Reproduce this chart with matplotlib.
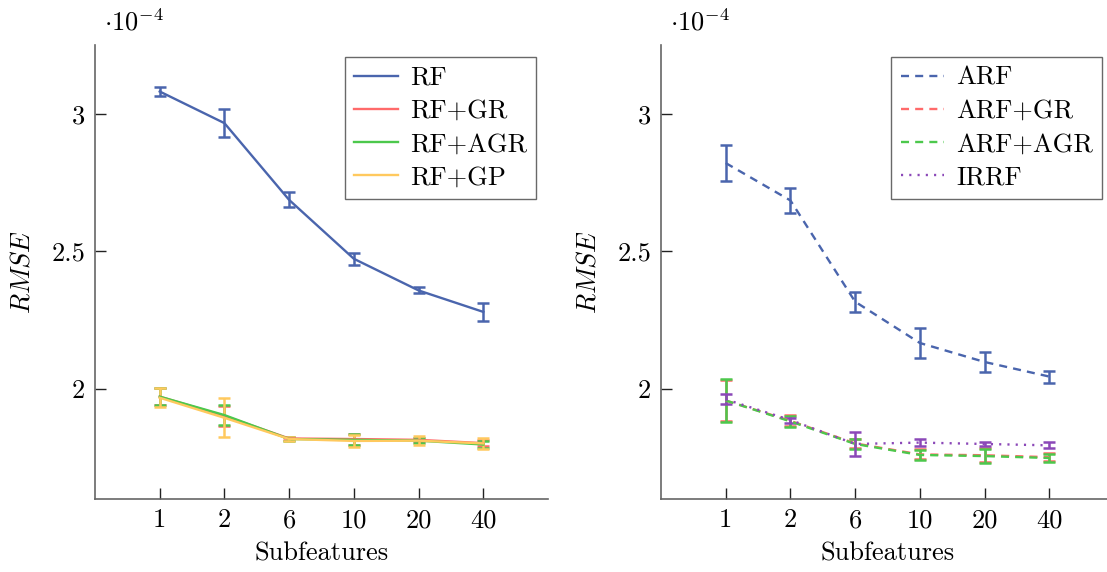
import matplotlib
matplotlib.use("Agg")
import matplotlib.pyplot as plt
from matplotlib.lines import Line2D
import numpy as np

plt.rcParams['font.family'] = 'cmr10'
plt.rcParams['mathtext.fontset'] = 'cm'
plt.rcParams['axes.formatter.use_mathtext'] = True

# x categories (number of subfeatures)
subfeatures = ['1', '2', '6', '10', '20', '40']

# left panel, values in 1e-4
rf = [3.081, 2.966, 2.687, 2.473, 2.358, 2.280]
rf_err = [0.015, 0.050, 0.027, 0.021, 0.011, 0.032]
rf_gr = [1.972, 1.902, 1.820, 1.818, 1.815, 1.803]
rf_gr_err = [0.030, 0.035, 0.006, 0.020, 0.008, 0.012]
rf_agr = [1.972, 1.905, 1.818, 1.815, 1.812, 1.798]
rf_agr_err = [0.030, 0.036, 0.006, 0.020, 0.010, 0.012]
rf_gp = [1.968, 1.895, 1.818, 1.811, 1.812, 1.802]
rf_gp_err = [0.034, 0.071, 0.006, 0.023, 0.017, 0.020]

# right panel
arf = [2.821, 2.685, 2.317, 2.167, 2.098, 2.045]
arf_err = [0.065, 0.044, 0.036, 0.053, 0.038, 0.022]
arf_gr = [1.958, 1.884, 1.802, 1.762, 1.759, 1.752]
arf_gr_err = [0.075, 0.020, 0.017, 0.018, 0.025, 0.015]
arf_agr = [1.958, 1.882, 1.800, 1.760, 1.756, 1.749]
arf_agr_err = [0.077, 0.021, 0.017, 0.018, 0.026, 0.015]
irrf = [1.962, 1.887, 1.800, 1.805, 1.800, 1.795]
irrf_err = [0.018, 0.009, 0.043, 0.012, 0.008, 0.011]

BLUE = '#4a65ad'
RED = '#ff6a6a'
GREEN = '#4cc84c'
YELLOW = '#ffc95e'
PURPLE = '#8b48b8'

FS = 19

fig = plt.figure(figsize=(11.07, 5.72), dpi=100)
ax1 = fig.add_axes([95 / 1107, 1 - 499 / 572, 453 / 1107, 454 / 572])
ax2 = fig.add_axes([661 / 1107, 1 - 499 / 572, 453 / 1107, 454 / 572])

x = np.arange(len(subfeatures))


def draw(ax, y, err, color, ls):
    ax.errorbar(x, y, yerr=err, color=color, lw=1.7, ls=ls, capsize=4,
                capthick=1.8, elinewidth=1.8)
    return Line2D([], [], color=color, lw=1.7, ls=ls)


dash = (0, (3.4, 2.6))
dot = (0, (0.9, 2.6))

h1 = [draw(ax1, rf, rf_err, BLUE, '-'),
      draw(ax1, rf_gr, rf_gr_err, RED, '-'),
      draw(ax1, rf_agr, rf_agr_err, GREEN, '-'),
      draw(ax1, rf_gp, rf_gp_err, YELLOW, '-')]
l1 = ['RF', 'RF+GR', 'RF+AGR', 'RF+GP']

h2 = [draw(ax2, arf, arf_err, BLUE, dash),
      draw(ax2, arf_gr, arf_gr_err, RED, dash),
      draw(ax2, arf_agr, arf_agr_err, GREEN, dash),
      draw(ax2, irrf, irrf_err, PURPLE, dot)]
l2 = ['ARF', 'ARF+GR', 'ARF+AGR', 'IRRF']

for ax, h, l in ((ax1, h1, l1), (ax2, h2, l2)):
    ax.set_xlim(-1, 6)
    ax.set_ylim(1.6, 3.25)
    ax.set_xticks(x)
    ax.set_xticklabels(subfeatures)
    ax.set_yticks([2, 2.5, 3])
    ax.set_yticklabels(['2', '2.5', '3'])
    ax.tick_params(direction='in', length=8, width=1, labelsize=FS,
                   color='#222222', pad=7)
    for s in ('top', 'right'):
        ax.spines[s].set_visible(False)
    for s in ('left', 'bottom'):
        ax.spines[s].set_color('#666666')
        ax.spines[s].set_linewidth(1.2)
    ax.set_xlabel('Subfeatures', fontsize=FS, labelpad=7)
    ax.set_ylabel(r'$RMSE$', fontsize=FS, labelpad=12)
    ax.text(0.02, 1.05, r'$\cdot 10^{-4}$', transform=ax.transAxes,
            fontsize=FS, ha='left', va='center')
    leg = ax.legend(h, l, loc='upper right', fontsize=FS, frameon=True,
                    fancybox=False, edgecolor='#444444', handlelength=1.65,
                    handletextpad=0.45, borderpad=0.35, labelspacing=0.36,
                    borderaxespad=0.45)
    leg.get_frame().set_linewidth(1.0)

fig.savefig('out.png', dpi=100)
